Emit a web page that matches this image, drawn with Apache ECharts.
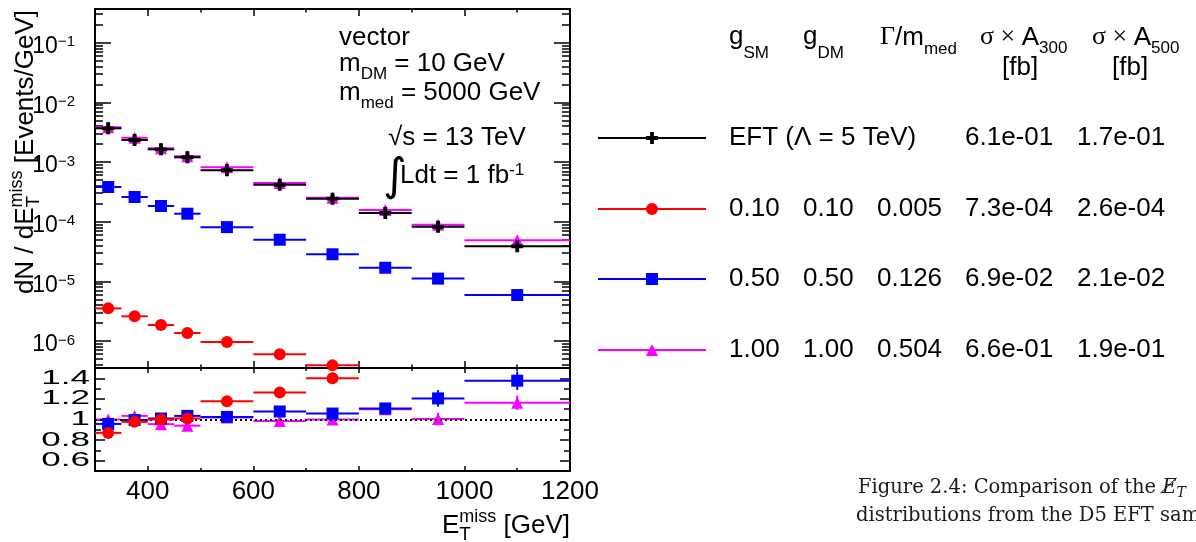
<!DOCTYPE html>
<html>
<head>
<meta charset="utf-8">
<script src="https://cdn.jsdelivr.net/npm/echarts@6/dist/echarts.min.js"></script>
<style>
html,body{margin:0;padding:0;background:#fff;}
#c{width:1196px;height:542px;}
</style>
</head>
<body>
<div id="c"></div>
<script>
// ---------------- data ----------------
const binEdges = [300, 350, 400, 450, 500, 600, 700, 800, 900, 1000, 1200];
const eftValues  = [3.67e-3, 2.34e-3, 1.63e-3, 1.20e-3, 7.3e-4, 4.16e-4, 2.43e-4, 1.40e-4, 8.2e-5, 3.86e-5];
const g010Values = [3.52e-6, 2.59e-6, 1.85e-6, 1.36e-6, 9.6e-7, 5.97e-7, 3.9e-7, null, null, null];
const g050Values = [3.81e-4, 2.59e-4, 1.83e-4, 1.36e-4, 8.1e-5, 4.98e-5, 2.84e-5, 1.69e-5, 1.11e-5, 5.89e-6];
const g100Values = [3.82e-3, 2.55e-3, 1.70e-3, 1.25e-3, 8.15e-4, 4.45e-4, 2.52e-4, 1.57e-4, 8.9e-5, 4.86e-5];
const g010Ratio = [0.87, 0.977, 1.0, 1.01, 1.176, 1.263, 1.40, null, null, null];
const g050Ratio = [0.957, 0.995, 1.01, 1.035, 1.025, 1.078, 1.058, 1.107, 1.205, 1.377];
const g100Ratio = [1.0, 1.035, 0.955, 0.94, 1.02, 0.985, 1.0, 1.10, 1.005, 1.163];
const g010RatioErr = [0.01, 0.01, 0.01, 0.01, 0.015, 0.02, 0.02, null, null, null];
const g050RatioErr = [0.02, 0.02, 0.02, 0.02, 0.02, 0.03, 0.03, 0.04, 0.08, 0.09];
const g100RatioErr = [0.03, 0.03, 0.03, 0.03, 0.03, 0.04, 0.04, 0.05, 0.06, 0.07];
const ratioRef = 1;
const yLogTicks = [-6, -5, -4, -3, -2, -1];
const ratioTicks = [0.6, 0.8, 1, 1.2, 1.4];
const xTicks = [400, 600, 800, 1000, 1200];
const legendHeader = ['SM', 'DM', 'med', '300', '500'];
const legendRows = [
  ['EFT (\u039B = 5 TeV)', '', '', '6.1e-01', '1.7e-01'],
  ['0.10', '0.10', '0.005', '7.3e-04', '2.6e-04'],
  ['0.50', '0.50', '0.126', '6.9e-02', '2.1e-02'],
  ['1.00', '1.00', '0.504', '6.6e-01', '1.9e-01']
];

// ---------------- layout / style ----------------
const SANS = 'Liberation Sans';
const SERIF = 'Liberation Serif';
const Y_MIN = -6.453, Y_MAX = -0.435;
const R_MIN = 0.5, R_MAX = 1.5;
const X_MIN = 300, X_MAX = 1200;
const CROSS = 'path://M3.4,0H6.6V3.4H10V6.6H6.6V10H3.4V6.6H0V3.4H3.4Z';
const COL = {eft:'#000000', g010:'#ff0000', g050:'#0000ff', g100:'#ff00ff'};

const minorLog = [];
for (let n = -7; n <= 0; n++) for (let k = 2; k <= 9; k++) {
  const v = n + Math.log10(k);
  if (v > Y_MIN && v < Y_MAX) minorLog.push(v);
}
const ratioMinor = [0.5, 0.7, 0.9, 1.1, 1.3, 1.5];
const xMajor = [400, 600, 800, 1000];
const xMinor = [500, 700, 900, 1100];

function xAx(grid, pos, ticks, len, showLine, labels) {
  return {
    type: 'value', gridIndex: grid, position: pos, min: X_MIN, max: X_MAX,
    axisLine: {show: showLine, onZero: false, lineStyle: {color: '#000', width: 2}},
    axisTick: {show: true, inside: true, length: len, customValues: ticks, lineStyle: {color: '#000', width: 1.5}},
    axisLabel: labels ? {show: true, customValues: labels, fontSize: 26, fontFamily: SANS, color: '#000', margin: 8,
                         showMinLabel: true, showMaxLabel: true, formatter: v => String(v)} : {show: false},
    splitLine: {show: false}
  };
}
function yAx(grid, pos, min, max, ticks, len, showLine, label) {
  return {
    type: 'value', gridIndex: grid, position: pos, min: min, max: max,
    axisLine: {show: showLine, onZero: false, lineStyle: {color: '#000', width: 2}},
    axisTick: {show: true, inside: true, length: len, customValues: ticks, lineStyle: {color: '#000', width: 1.5}},
    axisLabel: label || {show: false},
    splitLine: {show: false}
  };
}

const logLabel = {
  show: true, customValues: yLogTicks, margin: 20, padding: [8, 0, 0, 0],
  showMinLabel: true, showMaxLabel: true,
  formatter: v => '{b|10}{e|' + (v < 0 ? '\u2212' : '') + Math.abs(Math.round(v)) + '}',
  rich: {
    b: {fontSize: 23, fontFamily: SANS, color: '#000', lineHeight: 24},
    e: {fontSize: 15, fontFamily: SANS, color: '#000', lineHeight: 6, verticalAlign: 'top'}
  }
};

// ---------------- series builders ----------------
function barsSeries(vals, errs, color, xi, yi, z, isLog) {
  const data = [];
  vals.forEach((v, i) => {
    if (v == null) return;
    data.push([binEdges[i], binEdges[i + 1], isLog ? Math.log10(v) : v, errs ? errs[i] : 0]);
  });
  return {
    type: 'custom', xAxisIndex: xi, yAxisIndex: yi, z: z, clip: true, silent: true,
    encode: {x: [0, 1], y: 2},
    data: data,
    renderItem: function (params, api) {
      const lo = api.value(0), hi = api.value(1), v = api.value(2), e = api.value(3);
      const p1 = api.coord([lo, v]), p2 = api.coord([hi, v]);
      const ch = [{type: 'line', shape: {x1: p1[0], y1: p1[1], x2: p2[0], y2: p2[1]},
                   style: {stroke: color, lineWidth: 2}}];
      if (e > 0) {
        const c = (lo + hi) / 2;
        const a = api.coord([c, v + e]), b = api.coord([c, v - e]);
        ch.push({type: 'line', shape: {x1: a[0], y1: a[1], x2: b[0], y2: b[1]}, style: {stroke: color, lineWidth: 2}});
      }
      return {type: 'group', children: ch};
    }
  };
}
function markSeries(vals, color, symbol, size, xi, yi, z, isLog, extra) {
  const data = [];
  vals.forEach((v, i) => {
    if (v == null) return;
    data.push([(binEdges[i] + binEdges[i + 1]) / 2, isLog ? Math.log10(v) : v]);
  });
  return Object.assign({
    type: 'scatter', xAxisIndex: xi, yAxisIndex: yi, z: z, clip: true, silent: true,
    symbol: symbol, symbolSize: size, itemStyle: {color: color, opacity: 1},
    data: data
  }, extra || {});
}

const series = [
  barsSeries(g100Values, null, COL.g100, 0, 0, 2, true),
  markSeries(g100Values, COL.g100, 'triangle', 12, 0, 0, 3, true),
  barsSeries(g050Values, null, COL.g050, 0, 0, 4, true),
  markSeries(g050Values, COL.g050, 'rect', 12, 0, 0, 5, true),
  barsSeries(g010Values, null, COL.g010, 0, 0, 6, true),
  markSeries(g010Values, COL.g010, 'circle', 12, 0, 0, 7, true),
  barsSeries(eftValues, null, COL.eft, 0, 0, 8, true),
  markSeries(eftValues, COL.eft, CROSS, 12, 0, 0, 9, true),
  barsSeries(g100Ratio, g100RatioErr, COL.g100, 4, 4, 2, false),
  markSeries(g100Ratio, COL.g100, 'triangle', 12, 4, 4, 3, false, {
    markLine: {silent: true, symbol: 'none', label: {show: false},
      lineStyle: {color: '#000', type: [2, 3], width: 2}, data: [{yAxis: ratioRef}]}
  }),
  barsSeries(g050Ratio, g050RatioErr, COL.g050, 4, 4, 4, false),
  markSeries(g050Ratio, COL.g050, 'rect', 12, 4, 4, 5, false),
  barsSeries(g010Ratio, g010RatioErr, COL.g010, 4, 4, 6, false),
  markSeries(g010Ratio, COL.g010, 'circle', 12, 4, 4, 7, false)
];

// ---------------- text helpers ----------------
const mctx = document.createElement('canvas').getContext('2d');
function meas(t, s, ff, it) { mctx.font = (it ? 'italic ' : '') + s + 'px ' + (ff || SANS); return mctx.measureText(t).width; }
function T(x, yMid, text, size, o) {
  o = o || {};
  const el = {type: 'text', x: x, y: yMid, silent: true, z: 100,
    style: {text: text, fontSize: size, fontFamily: o.ff || SANS, fontStyle: o.it ? 'italic' : 'normal',
            fill: o.fill || '#000', align: o.align || 'left', verticalAlign: 'middle'}};
  if (o.scaleX) el.scaleX = o.scaleX;
  return el;
}
function line(x, base, pieces, alignRight, fill) {
  const widths = pieces.map(p => p.stack ? Math.max.apply(null, p.stack.map(q => meas(q.t, q.s, q.ff, q.it))) : meas(p.t, p.s, p.ff, p.it));
  const total = widths.reduce((a, b) => a + b, 0);
  let cx = alignRight ? x - total : x;
  const out = [];
  pieces.forEach((p, i) => {
    (p.stack || [p]).forEach(q => out.push(T(cx, base + (q.dy || 0) - 0.35 * q.s, q.t, q.s, Object.assign({fill: fill}, q))));
    cx += widths[i];
  });
  return out;
}

// ---------------- graphics ----------------
let g = [];
g.push({type: 'group', x: 35, y: 10, rotation: Math.PI / 2, children:
  line(0, 0, [{t: 'dN / dE', s: 26}, {stack: [{t: 'miss', s: 18, dy: -11.7}, {t: 'T', s: 19, dy: 5}]}, {t: ' [Events/GeV]', s: 26}], true)});
g = g.concat(line(570, 535, [{t: 'E', s: 26}, {stack: [{t: 'miss', s: 18, dy: -11.7}, {t: 'T', s: 19, dy: 6.7}]}, {t: ' [GeV]', s: 26}], true));
g = g.concat(line(339, 46.7, [{t: 'vector', s: 26}]));
g = g.concat(line(339, 73.3, [{t: 'm', s: 26}, {t: 'DM', s: 17, dy: 6.7}, {t: ' = 10 GeV', s: 26}]));
g = g.concat(line(339, 101.7, [{t: 'm', s: 26}, {t: 'med', s: 17, dy: 8}, {t: ' = 5000 GeV', s: 26}]));
g = g.concat(line(388, 146.7, [{t: '\u221A', s: 26}, {t: 's = 13 TeV', s: 26}]));
g.push(T(383, 178.5, '\u222B', 45, {ff: 'DejaVu Sans'}));
g = g.concat(line(400, 185, [{t: 'Ldt = 1 fb', s: 26}, {t: '-1', s: 17, dy: -8.3}]));

const hx = [729, 803, 880, 980, 1092];
g = g.concat(line(hx[0], 46, [{t: 'g', s: 26}, {t: legendHeader[0], s: 17, dy: 13}]));
g = g.concat(line(hx[1], 46, [{t: 'g', s: 26}, {t: legendHeader[1], s: 17, dy: 13}]));
g = g.concat(line(hx[2], 46.7, [{t: '\u0393', s: 26, ff: SERIF}, {t: '/m', s: 26}, {t: legendHeader[2], s: 17, dy: 8.3}]));
g = g.concat(line(hx[3], 46.7, [{t: '\u03C3', s: 26, ff: SERIF}, {t: ' \u00D7 ', s: 26, ff: SERIF}, {t: 'A', s: 26}, {t: legendHeader[3], s: 17, dy: 7.3}]));
g = g.concat(line(hx[4], 46.7, [{t: '\u03C3', s: 26, ff: SERIF}, {t: ' \u00D7 ', s: 26, ff: SERIF}, {t: 'A', s: 26}, {t: legendHeader[4], s: 17, dy: 7.3}]));
g = g.concat(line(1002, 77, [{t: '[fb]', s: 26}]));
g = g.concat(line(1112, 77, [{t: '[fb]', s: 26}]));

const rowY = [138, 209, 279, 350];
const colX = [729, 803, 877, 965, 1077];
const rowColors = [COL.eft, COL.g010, COL.g050, COL.g100];
legendRows.forEach((r, i) => {
  r.forEach((txt, j) => { if (txt) g.push(T(colX[j], rowY[i], txt, 26)); });
  const y = rowY[i], c = rowColors[i];
  g.push({type: 'line', silent: true, shape: {x1: 598, y1: y, x2: 706, y2: y}, style: {stroke: c, lineWidth: 2}});
  const mx = 652;
  if (i === 0) g.push({type: 'polygon', silent: true, shape: {points: [[mx-1.9,y-6],[mx+1.9,y-6],[mx+1.9,y-1.9],[mx+6,y-1.9],[mx+6,y+1.9],[mx+1.9,y+1.9],[mx+1.9,y+6],[mx-1.9,y+6],[mx-1.9,y+1.9],[mx-6,y+1.9],[mx-6,y-1.9],[mx-1.9,y-1.9]]}, style: {fill: c}});
  if (i === 1) g.push({type: 'circle', silent: true, shape: {cx: mx, cy: y, r: 6}, style: {fill: c}});
  if (i === 2) g.push({type: 'rect', silent: true, shape: {x: mx - 6, y: y - 6, width: 12, height: 12}, style: {fill: c}});
  if (i === 3) g.push({type: 'polygon', silent: true, shape: {points: [[mx, y - 6], [mx + 6, y + 6], [mx - 6, y + 6]]}, style: {fill: c}});
});

const CAP = 'DejaVu Serif';
g = g.concat(line(858, 495, [{t: 'Figure 2.4: Comparison of the ', s: 19.5, ff: CAP}, {t: 'E\u0338', s: 19.5, ff: CAP, it: true}, {t: 'T', s: 14, ff: CAP, it: true, dy: 3.5}], false, '#1a1a1a'));
g = g.concat(line(856, 523, [{t: 'distributions from the D5 EFT samples', s: 19.5, ff: CAP}], false, '#1a1a1a'));

// ---------------- chart ----------------
const chart = echarts.init(document.getElementById('c'), null, {renderer: 'canvas'});
const option = {
  animation: false,
  backgroundColor: '#fff',
  textStyle: {fontFamily: SANS},
  grid: [
    {left: 95, top: 9, width: 475, height: 359, outerBoundsMode: 'none', containLabel: false},
    {left: 95, top: 368, width: 475, height: 103, outerBoundsMode: 'none', containLabel: false}
  ],
  xAxis: [
    xAx(0, 'bottom', xMajor, 7, true, null),
    xAx(0, 'bottom', xMinor, 3.5, false, null),
    xAx(0, 'top', xMajor, 7, true, null),
    xAx(0, 'top', xMinor, 3.5, false, null),
    xAx(1, 'bottom', xMajor, 5, true, xTicks),
    xAx(1, 'bottom', xMinor, 3, false, null),
    xAx(1, 'top', xMajor, 5, true, null),
    xAx(1, 'top', xMinor, 3, false, null)
  ],
  yAxis: [
    yAx(0, 'left', Y_MIN, Y_MAX, yLogTicks, 16, true, logLabel),
    yAx(0, 'left', Y_MIN, Y_MAX, minorLog, 8, false, null),
    yAx(0, 'right', Y_MIN, Y_MAX, yLogTicks, 16, true, null),
    yAx(0, 'right', Y_MIN, Y_MAX, minorLog, 8, false, null),
    yAx(1, 'left', R_MIN, R_MAX, ratioTicks, 10, true, null),
    yAx(1, 'left', R_MIN, R_MAX, ratioMinor, 6, false, null),
    yAx(1, 'right', R_MIN, R_MAX, ratioTicks, 10, true, null),
    yAx(1, 'right', R_MIN, R_MAX, ratioMinor, 6, false, null)
  ],
  series: series,
  graphic: g
};
chart.setOption(option);

// ratio-panel tick labels (horizontally stretched, as in the reference), placed via the axis scale
const ratioLabels = ratioTicks.map(v => {
  const py = chart.convertToPixel({yAxisIndex: 4}, v);
  return T(90, py, String(v), 20, {align: 'right', scaleX: 1.75});
});
chart.setOption({graphic: g.concat(ratioLabels)});
</script>
</body>
</html>
